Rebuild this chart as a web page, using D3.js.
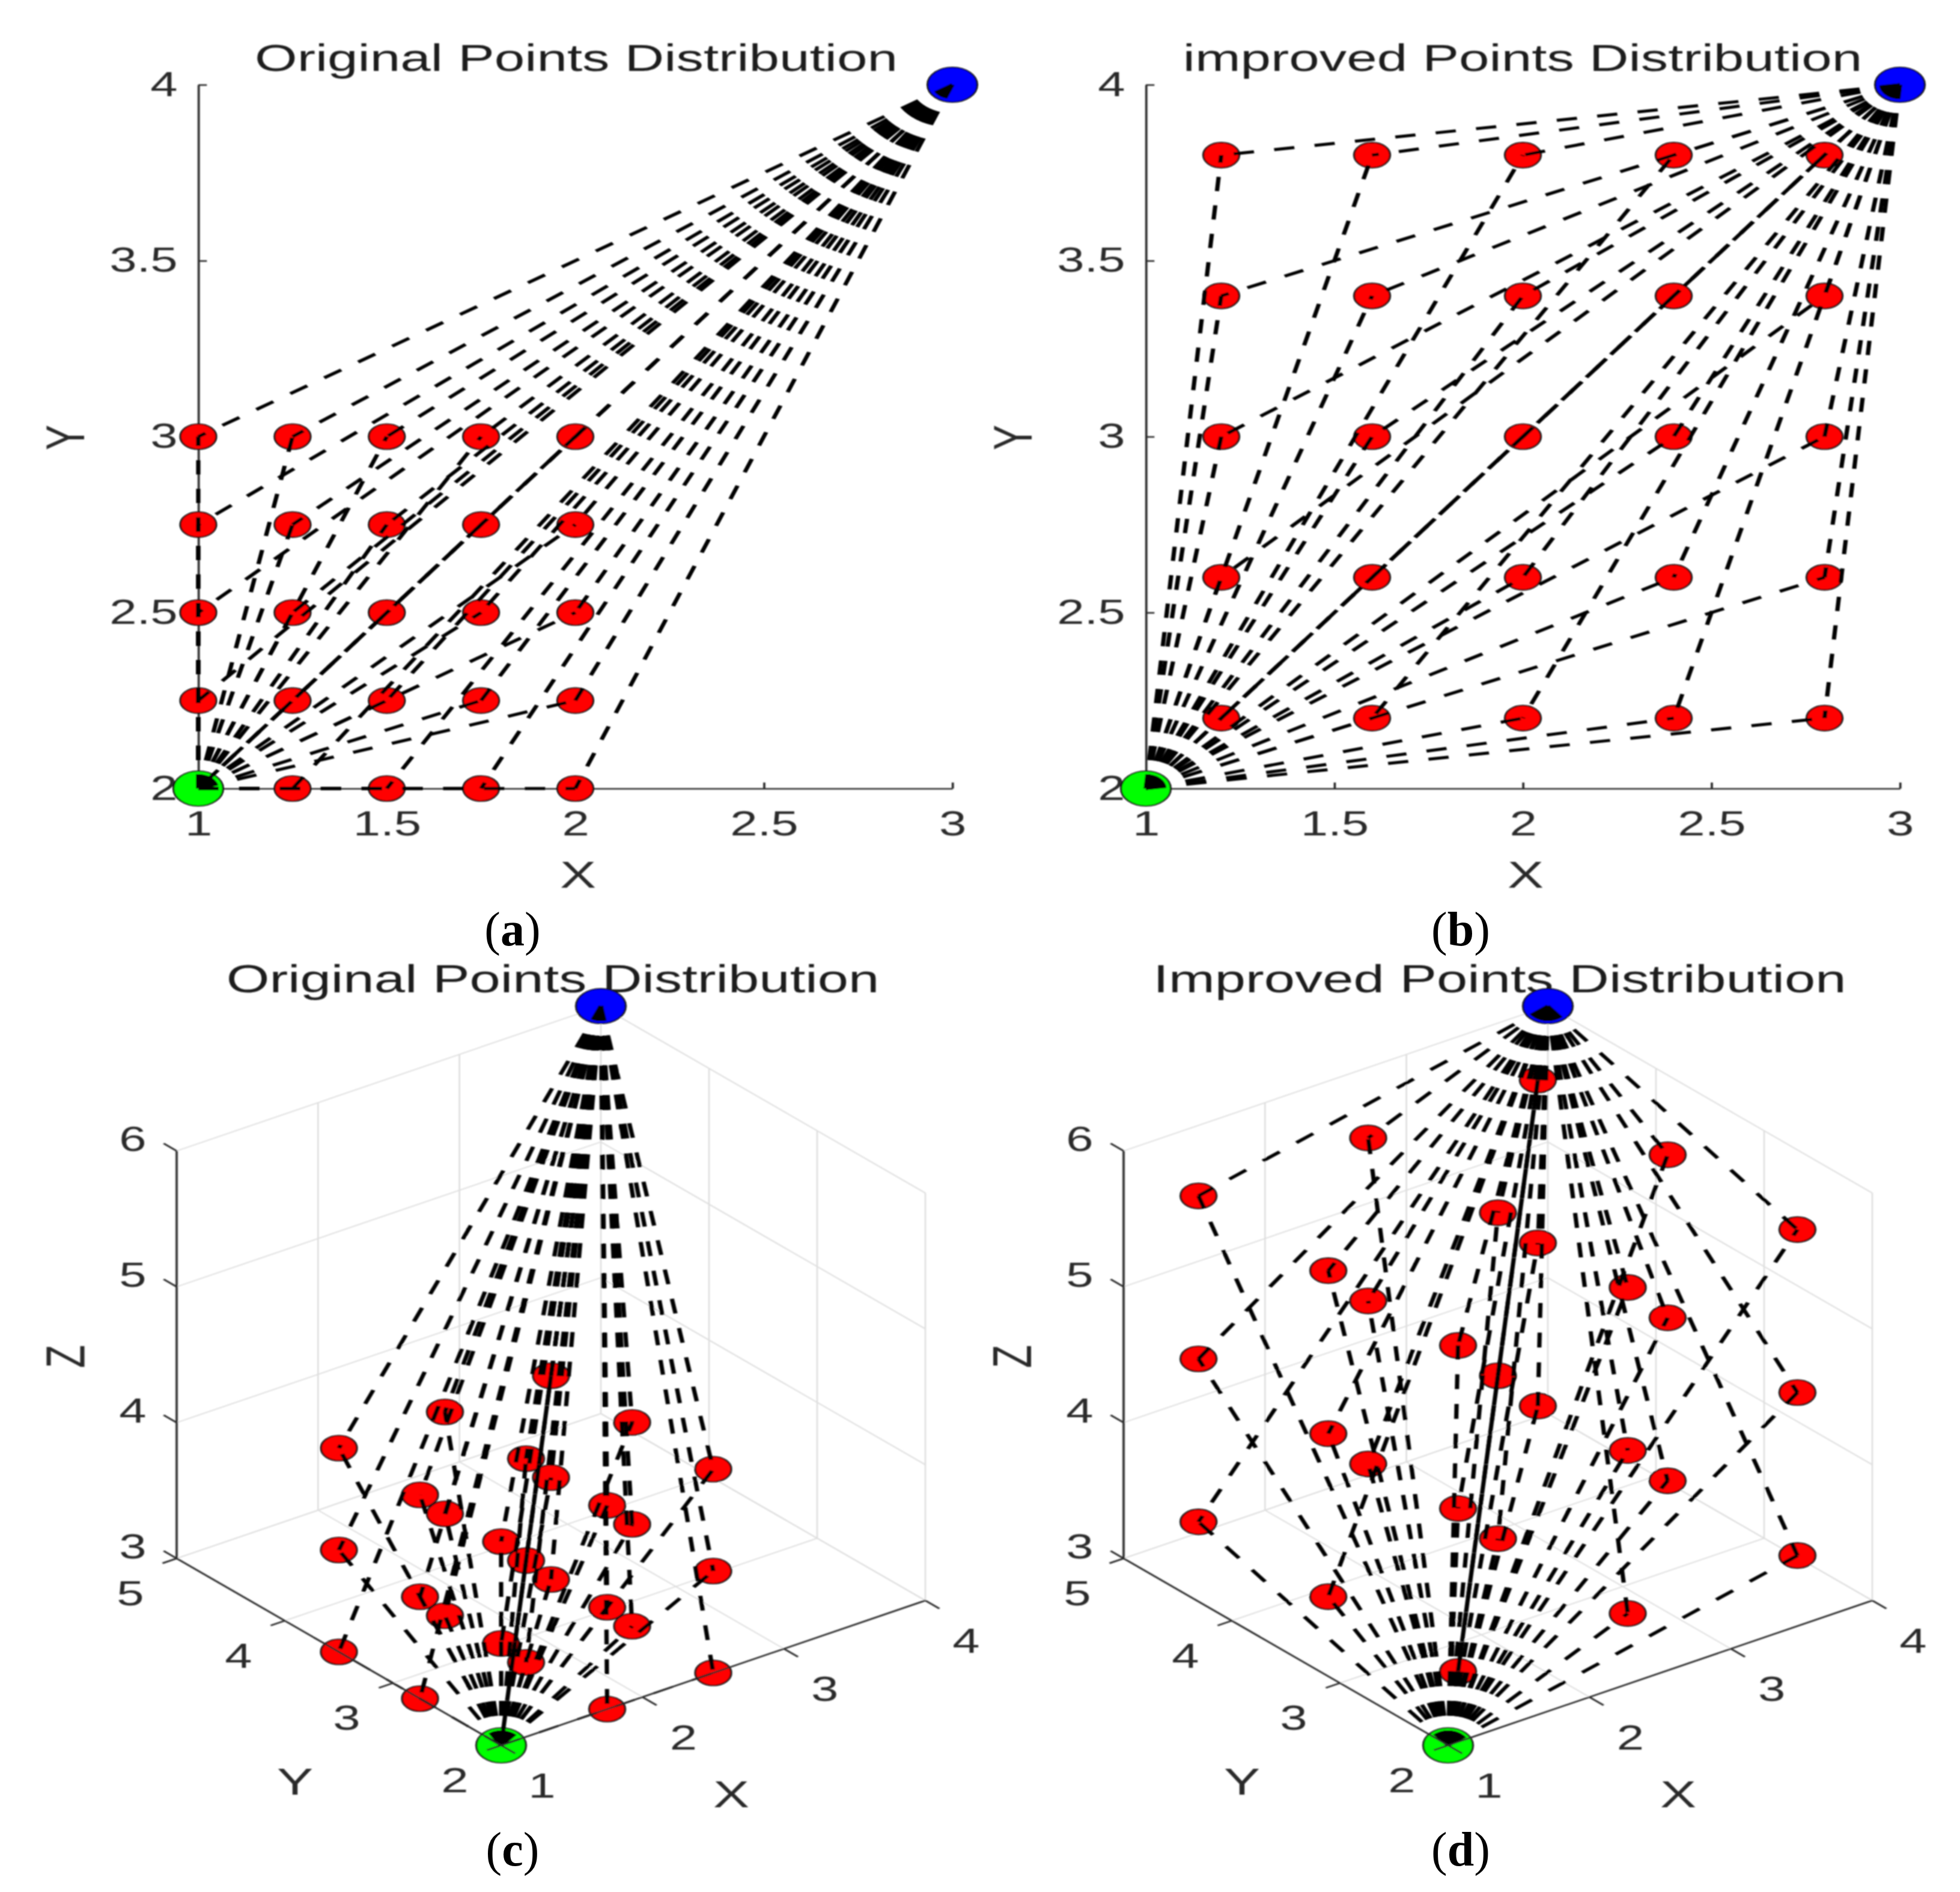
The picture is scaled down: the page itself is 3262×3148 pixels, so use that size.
<!DOCTYPE html>
<html><head><meta charset="utf-8">
<script src="https://cdn.jsdelivr.net/npm/d3@7/dist/d3.min.js"></script>
<style>html,body{margin:0;padding:0;background:#fff}svg{display:block}</style>
</head><body><div id="chart"></div>
<script>
// ---- data ----
const titles = ["Original Points Distribution","improved Points Distribution","Original Points Distribution","Improved Points Distribution"];
const captions = ["a","b","c","d"];
const origGrid2DX = [1,1.25,1.5,1.75,2];
const origGrid2DY = [2,2.25,2.5,2.75,3];
const imprGrid2DX = [1.2,1.6,2,2.4,2.8];
const imprGrid2DY = [2.2,2.6,3,3.4,3.8];
const start2D = [1,2], goal2D = [3,4];
const ticks2DX = [1,1.5,2,2.5,3];
const ticks2DY = [2,2.5,3,3.5,4];
const origGrid3DX = [1,1.75,2.5];
const origGrid3DY = [2,2.75,3.5];
const origGrid3DZ = [3,3.75,4.5];
const imprGrid3DX = [1.3,2.5,3.7];
const imprGrid3DY = [2.3,3.5,4.7];
const imprGrid3DZ = [3.3,4.5,5.7];
const start3D = [1,2,3], goal3D = [4,5,6];
const ticks3DX = [1,2,3,4];
const ticks3DY = [2,3,4,5];
const ticks3DZ = [3,4,5,6];

// ---- setup ----
const W = 3262, H = 3148, SX = 1.43;
const svg = d3.select("#chart").append("svg").attr("width",W).attr("height",H).attr("viewBox",[0,0,W,H]);
svg.append("rect").attr("width",W).attr("height",H).attr("fill","#fff");
const defs = svg.append("defs");
defs.append("filter").attr("id","soft")
  .attr("filterUnits","userSpaceOnUse").attr("x",0).attr("y",0).attr("width",W).attr("height",H)
  .append("feGaussianBlur").attr("stdDeviation","0.9");
const root = svg.append("g").attr("filter","url(#soft)").append("g").attr("transform",`scale(${SX},1)`);
const FONT = "'Liberation Sans',Arial,sans-serif", INK = "#2b2b2b";
const TICK_SIZE = 57, LABEL_SIZE = 63, AXIS_W = 2.6;
const bx = v => v / SX;

function marker(g, p, r, fill){
  g.append("circle").attr("cx",p[0]).attr("cy",p[1]).attr("r",r).attr("fill",fill)
   .attr("stroke","#111").attr("stroke-width",2.2);
}
const pathGen = d3.line();
function ray(g, a, b, dash, width){
  g.append("path").attr("d",pathGen([a,b])).attr("fill","none").attr("stroke","#000")
   .attr("stroke-width",width).attr("stroke-dasharray",`${dash} ${dash}`);
}
function label(g, txt, x, y, size, rot){
  const t = g.append("text").attr("font-family",FONT).attr("font-size",size).attr("fill",INK)
    .attr("text-anchor","middle").attr("dominant-baseline","central").text(txt);
  t.attr("transform", rot ? `translate(${x},${y}) rotate(${rot})` : `translate(${x},${y})`);
}
function title(g, txt, x, y, size){
  g.append("text").attr("x",x).attr("y",y).attr("font-family",FONT).attr("font-size",size)
   .attr("fill","#1a1a1a").attr("text-anchor","middle").text(txt);
}
function scatter(g, pts, from, to, project, dash, widthOf){
  const marks = g.append("g"), rays = g.append("g");
  pts.forEach(p => marker(marks, project(p), 21, "#f00"));
  marker(marks, project(from), 29, "#0f0");
  marker(marks, project(to), 29, "#00f");
  pts.forEach(p => {
    ray(rays, project(from), project(p), dash, widthOf(p));
    ray(rays, project(to), project(p), dash, 5);
  });
}

// ---- 2-D panels ----
function panel2D(dx, ttl, cx, xs, ys){
  const g = root.append("g").attr("transform",`translate(${bx(dx)},0)`);
  const x = d3.scaleLinear([1,3],[bx(330),bx(1585)]);
  const y = d3.scaleLinear([2,4],[1312,141]);
  title(g, ttl, bx(cx), 118, 63.5);
  const gx = g.append("g").attr("transform",`translate(0,${y(2)})`)
    .call(d3.axisBottom(x).tickValues(ticks2DX).tickFormat(d3.format("~g")).tickSizeOuter(0).tickSizeInner(-10).tickPadding(38));
  const gy = g.append("g").attr("transform",`translate(${x(1)},0)`)
    .call(d3.axisLeft(y).tickValues(ticks2DY).tickFormat(d3.format("~g")).tickSizeOuter(0).tickSizeInner(-10).tickPadding(24));
  [gx,gy].forEach(a => {
    a.selectAll("path,line").attr("stroke",INK).attr("stroke-width",AXIS_W);
    a.selectAll("text").attr("font-family",FONT).attr("font-size",TICK_SIZE).attr("fill",INK);
  });
  label(g,"X",bx(962),1455,LABEL_SIZE);
  label(g,"Y",bx(109),728,LABEL_SIZE,-90);
  scatter(g, d3.cross(xs,ys), start2D, goal2D, p => [x(p[0]),y(p[1])], 23.75, () => 5);
}
panel2D(0, titles[0], 959, origGrid2DX, origGrid2DY);
panel2D(1577, titles[1], 957, imprGrid2DX, imprGrid2DY);

// ---- 3-D panels ----
function panel3D(dx, ttl, cx, xs, ys, zs){
  const g = root.append("g").attr("transform",`translate(${bx(dx)},0)`);
  const xH = d3.scaleLinear([1,4],[0,bx(706)]), xV = d3.scaleLinear([1,4],[0,-241]);
  const yH = d3.scaleLinear([2,5],[0,bx(-540)]), yV = d3.scaleLinear([2,5],[0,-311]);
  const zV = d3.scaleLinear([3,6],[0,-678]);
  const ox = bx(834), oy = 2904;
  const P = ([a,b,c]) => [ox + xH(a) + yH(b), oy + xV(a) + yV(b) + zV(c)];
  const seg = (a,b,col,w) => g.append("path").attr("d",pathGen([P(a),P(b)])).attr("stroke",col).attr("stroke-width",w).attr("fill","none");
  const GRID = "#dedede";
  title(g, ttl, bx(cx), 1651, 64.5);
  ticks3DZ.forEach(z => { seg([1,5,z],[4,5,z],GRID,1.8); seg([4,5,z],[4,2,z],GRID,1.8); });
  ticks3DX.forEach(a => { seg([a,2,3],[a,5,3],GRID,1.8); if(a>1) seg([a,5,3],[a,5,6],GRID,1.8); });
  ticks3DY.forEach(b => { seg([1,b,3],[4,b,3],GRID,1.8); if(b<5) seg([4,b,3],[4,b,6],GRID,1.8); });
  ticks3DX.forEach(a => { const p=P([a,2,3]); label(g,a,p[0]+bx(68),p[1]+67,TICK_SIZE); });
  ticks3DY.forEach(b => { const p=P([1,b,3]); label(g,b,p[0]+bx(-77),p[1]+58,TICK_SIZE); });
  ticks3DZ.forEach(z => { const p=P([1,5,z]); label(g,z,p[0]+bx(-73),p[1]-20,TICK_SIZE); });
  label(g,"X",bx(1217),2985,LABEL_SIZE);
  label(g,"Y",bx(491),2964,LABEL_SIZE);
  label(g,"Z",bx(109),2257,LABEL_SIZE,-90);
  // rays lying along an axis on the floor read as thin lines in the picture
  const along = p => p[2]===start3D[2] && (p[0]===start3D[0] || p[1]===start3D[1]);
  scatter(g, d3.cross(xs,d3.cross(ys,zs)).map(([a,[b,c]])=>[a,b,c]), start3D, goal3D, P, 24.7, p => along(p) ? 3 : 5);
  seg([1,2,3],[4,2,3],INK,AXIS_W); seg([1,2,3],[1,5,3],INK,AXIS_W); seg([1,5,3],[1,5,6],INK,AXIS_W);
  ticks3DX.forEach(a => seg([a,2,3],[a,1.87,3],INK,AXIS_W));
  ticks3DY.forEach(b => seg([1,b,3],[0.9,b,3],INK,AXIS_W));
  ticks3DZ.forEach(z => seg([1,5,z],[1,5.12,z],INK,AXIS_W));
}
panel3D(0, titles[2], 920, origGrid3DX, origGrid3DY, origGrid3DZ);
panel3D(1576, titles[3], 920, imprGrid3DX, imprGrid3DY, imprGrid3DZ);

// ---- sub-figure captions ----
const capX = [853,2431,853,2431], capY = [1547,1547,3078,3078];
captions.forEach((c,i)=>{
  const t = svg.append("text").attr("x",capX[i]).attr("y",capY[i]+26).attr("text-anchor","middle")
    .attr("font-family","'Liberation Serif',serif").attr("font-size",80).attr("fill","#000");
  t.append("tspan").text("(");
  t.append("tspan").attr("font-weight","bold").text(c);
  t.append("tspan").text(")");
});
</script></body></html>
